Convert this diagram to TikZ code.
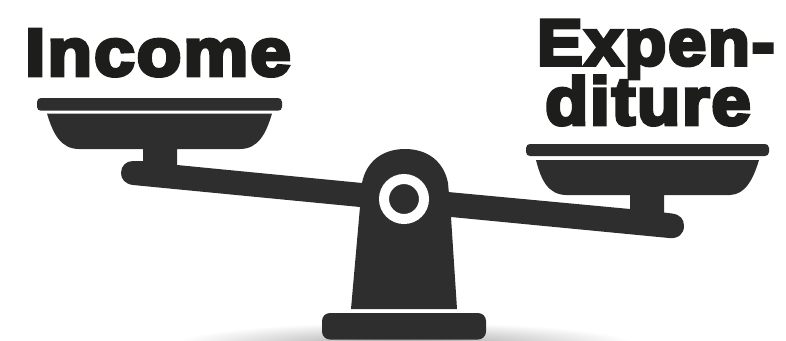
\documentclass[tikz,border=0pt]{standalone}
\usepackage{fontspec}
\newfontfamily\heavy{Liberation Sans}[BoldFeatures={FakeBold=5.5,FakeStretch=1.09,LetterSpace=3}]
\newfontfamily\heavynarrow{Liberation Sans}[BoldFeatures={FakeBold=5.5,FakeStretch=1.05,LetterSpace=3}]
\definecolor{ink}{HTML}{2E2E2E}
\definecolor{textink}{HTML}{1D1D1B}
\tikzset{part/.style={fill=ink,draw=none},
 label/.style={inner sep=0pt,text=textink,anchor=base west}}
\begin{document}
\begin{tikzpicture}[x=1pt,y=-1pt]
\useasboundingbox (0,0) rectangle (786,340);
% shadow
\begin{scope}
\clip (0,0) rectangle (786,340);
\shade[inner color=black!38,outer color=white,draw=none] (405,346) ellipse (235 and 24);
\end{scope}
% beam
\path[part] (177,165) -- (362,183) -- (448,192) -- (630,209) -- (664,212.5) -- (672,213.5)
  .. controls (680,214.5) and (684,219) .. (684,226)
  .. controls (684,234) and (678,239) .. (669,238)
  -- (451,217) -- (360,207) -- (133,185)
  .. controls (125,184) and (121,179) .. (121,173)
  .. controls (121,166) and (126,161) .. (133,161) -- (143,161) -- (177,165) -- cycle;
% left pan
\path[part] (37,102) .. controls (37,99.5) and (39,98) .. (41,98) -- (278,98) .. controls (280,98) and (282,99.5) .. (282,102) -- (282,107) .. controls (282,109.5) and (280,110.7) .. (278,110.7) -- (41,110.7) .. controls (39,110.7) and (37,109.5) .. (37,107) -- cycle;
\path[part] (47,113.5) -- (272,113.5) .. controls (266,134) and (258,149) .. (240,149) -- (177,149) -- (177,170) -- (143,170) -- (143,149) -- (79,149) .. controls (61,149) and (53,134) .. (47,113.5) -- cycle;
% right pan
\path[part] (526,148) .. controls (526,145.5) and (528,144) .. (530,144) -- (765,144) .. controls (767,144) and (769,145.5) .. (769,148) -- (769,152) .. controls (769,154.5) and (767,156) .. (765,156) -- (530,156) .. controls (528,156) and (526,154.5) .. (526,152) -- cycle;
\path[part] (536,160) -- (759,160) .. controls (753,180) and (745,194.5) .. (730,195) -- (664,195) -- (664,218) -- (630,218) -- (630,195) -- (566,195) .. controls (548,194.5) and (541,180) .. (536,160) -- cycle;
% fulcrum
\path[part] (351,309) -- (360,207) -- (362,183) .. controls (366,162) and (382,149) .. (405,149)
  .. controls (428,149) and (444,162) .. (448,183) -- (451,217) -- (457,309) -- cycle;
\path[part,rounded corners=8pt] (322,313) rectangle (486,339.5);
\node[circle,draw=white,fill=ink,line width=10pt,minimum size=40pt,inner sep=0pt] (pivot) at (404,199) {};
% labels
\node[label,font=\heavy\bfseries\fontsize{67}{67}\selectfont] (income) at (25,75.5) {Income};
\node[label,font=\heavynarrow\bfseries\fontsize{65}{65}\selectfont] (expen) at (537,65) {Expen-};
\node[label,font=\heavynarrow\bfseries\fontsize{67}{67}\selectfont] (diture) at (545,124.5) {diture};
\end{tikzpicture}
\end{document}
